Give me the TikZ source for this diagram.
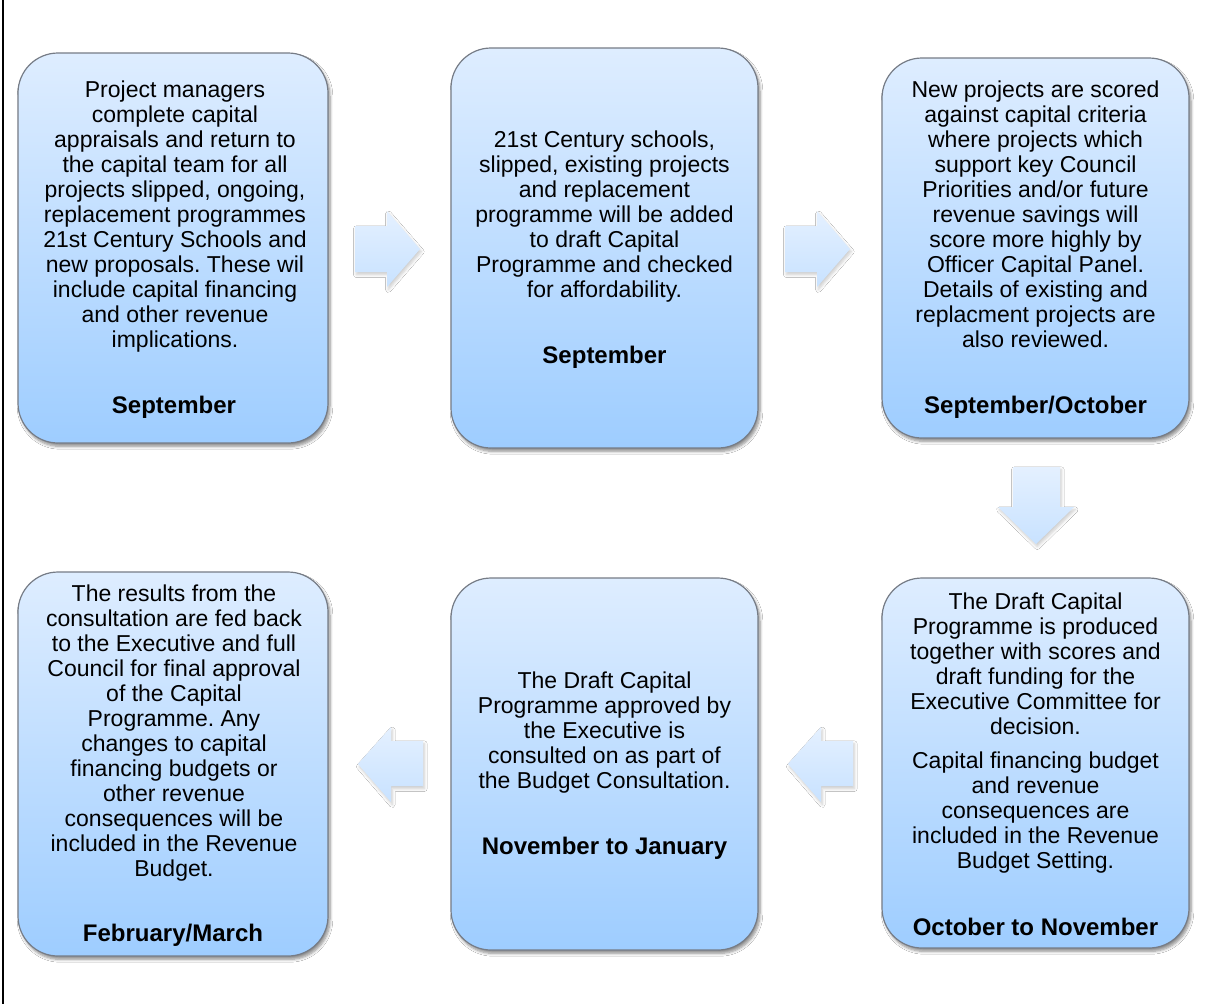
\documentclass[tikz,border=0pt]{standalone}
\usepackage{fontspec}
\setmainfont{Liberation Sans}
\usetikzlibrary{shadows.blur}
\definecolor{boxtop}{RGB}{222,237,255}
\definecolor{boxbot}{RGB}{158,205,255}
\definecolor{boxline}{RGB}{118,124,134}
\definecolor{arrtop}{RGB}{228,240,255}
\definecolor{arrbot}{RGB}{200,226,255}
\tikzset{
  stage/.style={draw=boxline, line width=0.9pt, rounded corners=30pt,
    top color=boxtop, bottom color=boxbot, inner sep=0pt,
    blur shadow={shadow xshift=1.5pt, shadow yshift=-2.5pt, shadow blur steps=6, shadow opacity=45}},
  body/.style={align=center, inner sep=0pt, anchor=north, font=\fontsize{17.25}{18.75}\selectfont},
  when/.style={inner sep=0pt, font=\fontsize{18}{18.75}\selectfont\bfseries},
  blockarrow/.style={top color=arrtop, bottom color=arrbot, draw=none,
    blur shadow={shadow xshift=1pt, shadow yshift=-2pt, shadow blur steps=5, shadow opacity=20}}
}
\frenchspacing
\begin{document}
\frenchspacing
\begin{tikzpicture}[x=0.75pt,y=-0.75pt]
\useasboundingbox (0,0) rectangle (1212,1004);
\fill[white] (0,0) rectangle (1212,1004);
\draw[line width=1.5pt] (3,0) -- (3,1004);

% boxes
\node[stage, minimum width=232.5pt, minimum height=292.5pt] (b1) at (173,248) {};
\node[stage, minimum width=230.25pt, minimum height=300pt] (b2) at (604.5,248) {};
\node[stage, minimum width=230.25pt, minimum height=285pt] (b3) at (1035.5,248) {};
\node[stage, minimum width=230.25pt, minimum height=277.5pt] (b4) at (1035.5,763) {};
\node[stage, minimum width=230.25pt, minimum height=279pt] (b5) at (604.5,764) {};
\node[stage, minimum width=232.5pt, minimum height=288pt] (b6) at (173,764) {};

% texts
\node[body] (t1) at (175,81) {Project managers\\complete capital\\appraisals and return to\\the capital team for all\\projects slipped, ongoing,\\replacement programmes\\21st Century Schools and\\new proposals. These wil\\include capital financing\\and other revenue\\implications.};
\node[when] (w1) at (174,407) {September};

\node[body] (t2) at (604.5,131) {21st Century schools,\\slipped, existing projects\\and replacement\\programme will be added\\to draft Capital\\Programme and checked\\for affordability.};
\node[when] (w2) at (604.5,357) {September};

\node[body] (t3) at (1035.5,81) {New projects are scored\\against capital criteria\\where projects which\\support key Council\\Priorities and/or future\\revenue savings will\\score more highly by\\Officer Capital Panel.\\Details of existing and\\replacment projects are\\also reviewed.};
\node[when] (w3) at (1035.5,407) {September/October};

\node[body] (t4) at (1035.5,593) {The Draft Capital\\Programme is produced\\together with scores and\\draft funding for the\\Executive Committee for\\decision.\\[6.75pt]Capital financing budget\\and revenue\\consequences are\\included in the Revenue\\Budget Setting.};
\node[when] (w4) at (1035.5,927) {October to November};

\node[body] (t5) at (604.5,672) {The Draft Capital\\Programme approved by\\the Executive is\\consulted on as part of\\the Budget Consultation.};
\node[when] (w5) at (604.5,848) {November to January};

\node[body] (t6) at (174,585) {The results from the\\consultation are fed back\\to the Executive and full\\Council for final approval\\of the Capital\\Programme. Any\\changes to capital\\financing budgets or\\other revenue\\consequences will be\\included in the Revenue\\Budget.};
\node[when] (w6) at (173,935) {February/March};

% block arrows
\path[blockarrow] (355,226) -- (387,226) -- (387,211) -- (420,249) -- (387,287) -- (387,272) -- (355,272) -- cycle;
\path[blockarrow] (785,226) -- (817,226) -- (817,211) -- (850,249) -- (817,287) -- (817,272) -- (785,272) -- cycle;
\path[blockarrow] (1013,467) -- (1060,467) -- (1060,507) -- (1074,507) -- (1036,544) -- (998,507) -- (1013,507) -- cycle;
\path[blockarrow] (853,741) -- (821,741) -- (821,727) -- (788,764) -- (821,802) -- (821,786) -- (853,786) -- cycle;
\path[blockarrow] (423,741) -- (391,741) -- (391,727) -- (358,764) -- (391,802) -- (391,786) -- (423,786) -- cycle;
\end{tikzpicture}
\end{document}
